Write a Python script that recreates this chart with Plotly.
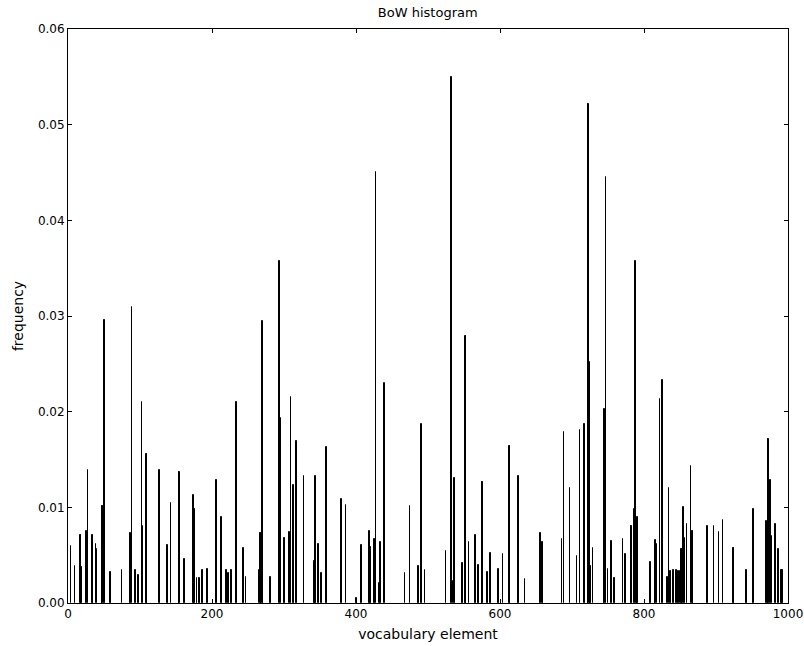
import plotly.graph_objects as go

# vocabulary indices with non-zero frequency
vocab_idx = [4, 10, 17, 18, 19, 26, 28, 34, 35, 39, 40, 47, 48, 51, 59, 75, 87, 89, 94, 98,
             103, 104, 109, 110, 127, 138, 143, 154, 155, 162, 174, 176, 179, 183, 187, 194,
             206, 213, 220, 223, 227, 234, 244, 247, 265, 267, 268, 270, 271, 281, 294, 296,
             301, 308, 310, 313, 317, 328, 342, 344, 348, 352, 359, 380, 386, 401, 408, 419,
             420, 426, 428, 432, 434, 439, 440, 468, 475, 487, 491, 496, 525, 533, 535, 537,
             548, 552, 553, 557, 566, 570, 575, 576, 583, 587, 598, 604, 613, 614, 626, 635,
             656, 659, 686, 689, 697, 707, 711, 717, 722, 723, 725, 726, 729, 745, 747, 750,
             755, 759, 771, 774, 782, 783, 786, 788, 790, 791, 809, 815, 816, 818, 822, 826,
             833, 835, 837, 841, 845, 848, 850, 852, 853, 855, 857, 860, 865, 867, 868, 888,
             897, 904, 910, 924, 925, 942, 952, 970, 972, 973, 976, 978, 983, 987, 991, 992]
frequency = [0.0060, 0.0039, 0.0071, 0.0071, 0.0038, 0.0075, 0.0139, 0.0071, 0.0071, 0.0062,
             0.0056, 0.0101, 0.0101, 0.0296, 0.0032, 0.0035, 0.0073, 0.0309, 0.0034, 0.0029,
             0.0210, 0.0081, 0.0156, 0.0156, 0.0139, 0.0061, 0.0105, 0.0137, 0.0137, 0.0046,
             0.0113, 0.0098, 0.0026, 0.0026, 0.0034, 0.0036, 0.0129, 0.0090, 0.0034, 0.0031,
             0.0034, 0.0210, 0.0058, 0.0027, 0.0035, 0.0073, 0.0073, 0.0295, 0.0038, 0.0027,
             0.0357, 0.0193, 0.0068, 0.0074, 0.0215, 0.0123, 0.0169, 0.0133, 0.0044, 0.0133,
             0.0062, 0.0031, 0.0163, 0.0109, 0.0102, 0.0005, 0.0061, 0.0075, 0.0059, 0.0067,
             0.0451, 0.0021, 0.0064, 0.0230, 0.0230, 0.0031, 0.0101, 0.0039, 0.0187, 0.0035,
             0.0054, 0.0550, 0.0023, 0.0131, 0.0042, 0.0279, 0.0279, 0.0064, 0.0071, 0.0040,
             0.0127, 0.0127, 0.0032, 0.0052, 0.0036, 0.0051, 0.0164, 0.0164, 0.0133, 0.0025,
             0.0073, 0.0064, 0.0067, 0.0179, 0.0120, 0.0049, 0.0181, 0.0187, 0.0522, 0.0522,
             0.0252, 0.0039, 0.0057, 0.0203, 0.0445, 0.0036, 0.0065, 0.0026, 0.0067, 0.0051,
             0.0081, 0.0081, 0.0098, 0.0358, 0.0081, 0.0090, 0.0043, 0.0024, 0.0066, 0.0062,
             0.0213, 0.0233, 0.0027, 0.0120, 0.0033, 0.0034, 0.0034, 0.0033, 0.0033, 0.0056,
             0.0056, 0.0100, 0.0068, 0.0083, 0.0143, 0.0075, 0.0075, 0.0081, 0.0080, 0.0074,
             0.0087, 0.0058, 0.0058, 0.0034, 0.0098, 0.0086, 0.0171, 0.0171, 0.0129, 0.0070,
             0.0083, 0.0056, 0.0035, 0.0035]

x_ticks = [0, 200, 400, 600, 800, 1000]
y_ticks = [0.00, 0.01, 0.02, 0.03, 0.04, 0.05, 0.06]

fig = go.Figure(go.Bar(
    x=vocab_idx, y=frequency, width=0.8,
    marker=dict(color="black", line=dict(color="black", width=1)),
))

axis_common = dict(
    showline=True, linecolor="black", linewidth=1, mirror="allticks",
    ticks="inside", ticklen=4, tickcolor="black", showgrid=False, zeroline=False,
    automargin=False,
    tickfont=dict(family="DejaVu Sans", size=12, color="black"),
)

fig.update_layout(
    width=804, height=646,
    margin=dict(l=68, r=16, t=29, b=43),
    paper_bgcolor="white", plot_bgcolor="white",
    showlegend=False, bargap=0,
    title=dict(text="BoW histogram", x=0.532, xanchor="center", y=0.981, yanchor="middle",
               font=dict(family="DejaVu Sans", size=13, color="black")),
    font=dict(family="DejaVu Sans", size=12, color="black"),
    xaxis=dict(range=[0, 1000], tickvals=x_ticks, ticktext=[str(v) for v in x_ticks],
               title=dict(text="vocabulary element", standoff=8), **axis_common),
    yaxis=dict(range=[0, 0.06], tickvals=y_ticks, ticktext=[f"{v:.2f}" for v in y_ticks],
               title=dict(text="frequency", standoff=10), **axis_common),
)

fig.write_html("out.html",
               post_script="document.body.style.margin='0';document.body.style.overflow='hidden';")
